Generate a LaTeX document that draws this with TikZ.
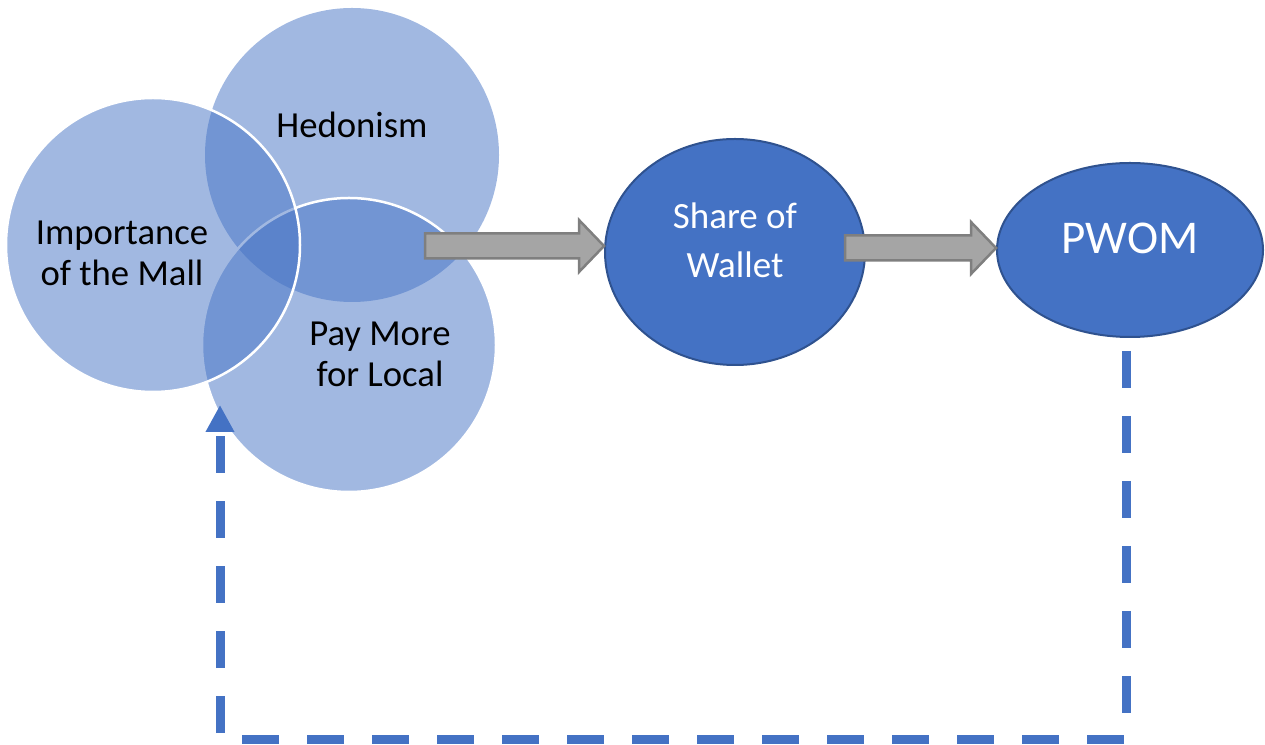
\documentclass[tikz,border=0pt]{standalone}
\usepackage{fontspec}
\setmainfont{Carlito}
\usepackage{tikz}
\usetikzlibrary{arrows.meta,calc,shapes.geometric}

\definecolor{accblue}{HTML}{4472C4}
\definecolor{accdark}{HTML}{2F528F}
\definecolor{arrgray}{HTML}{A5A5A5}
\definecolor{arredge}{HTML}{7F7F7F}

% gray block arrow: #1 = tail, #2 = tip
\newcommand{\blockarrow}[2]{%
  \draw[grayarrow] let \p1=(#1), \p2=(#2) in
    (\x1,\y1+12.5) -- (\x2-25,\y1+12.5) -- (\x2-25,\y1+26) -- (\x2,\y1) --
    (\x2-25,\y1-26) -- (\x2-25,\y1-12.5) -- (\x1,\y1-12.5) -- cycle;}

\begin{document}
\begin{tikzpicture}[line join=round,x=1pt,y=1pt,
    venn/.style={circle,minimum size=294pt,inner sep=0pt,fill=accblue,fill opacity=0.5},
    vennline/.style={draw=white,draw opacity=1,line width=2.5pt},
    vennlabel/.style={align=center,inner sep=0pt,font=\fontsize{36.7}{41}\selectfont},
    oval/.style={ellipse,inner sep=0pt,fill=accblue,draw=accdark,line width=2pt},
    ovallabel/.style={align=center,inner sep=0pt,text=white,font=\fontsize{37}{49}\selectfont},
    grayarrow/.style={fill=arrgray,draw=arredge,line width=2.5pt,line join=miter},
    feedback/.style={draw=accblue,line width=9pt,line cap=butt,line join=miter,
      dash pattern=on 37pt off 28pt,-{Triangle[length=27pt,width=27pt]}}]
      \useasboundingbox (0,0) rectangle (1265,744);

      \node[venn] (hed) at (352,589) {};
      \node[venn,vennline] (pay) at (349,399) {};
      \node[venn,vennline] (imp) at (153,499) {};

      \node[vennlabel] (hedtext) at (352,619) {Hedonism};
      \node[vennlabel] (imptext) at (122,491) {Importance\\of the Mall};
      \node[vennlabel] (paytext) at (380,390) {Pay More\\for Local};

      \node[oval,minimum width=260pt,minimum height=226pt] (sow) at (735,492) {};
      \node[oval,minimum width=266pt,minimum height=174pt] (pwom) at (1130,494) {};
      \node[ovallabel] (sowtext) at ($(sow)+(0,12)$) {Share of\\Wallet};
      \node[ovallabel,font=\fontsize{47}{56}\selectfont] (pwomtext) at ($(pwom)+(0,12)$) {PWOM};

      \coordinate (vennout) at (425,498);
      \coordinate (sowout) at (845,496);
      \blockarrow{vennout}{sow.west |- vennout}
      \blockarrow{sowout}{pwom.west |- sowout}

      \coordinate (fbin) at (220,339);
      \draw[feedback] ([xshift=-4pt,yshift=-13pt]pwom.south) -- ++(0,-388) -| (fbin);
    \end{tikzpicture}
\end{document}
